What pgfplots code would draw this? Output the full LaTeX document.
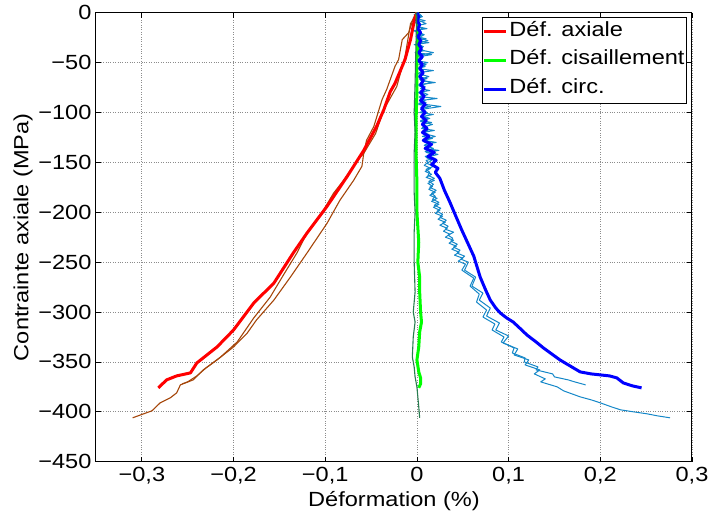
\documentclass[border=0pt]{standalone}
\usepackage{fontspec}
\setmainfont{Liberation Sans}[FakeStretch=1.15]
\usepackage{pgfplots}
\pgfplotsset{compat=1.18}
\definecolor{brownc}{RGB}{165,70,10}
\definecolor{dgreen}{RGB}{40,125,80}
\definecolor{lblue}{RGB}{20,135,200}
\newcommand\fs{\fontsize{20.5}{24}\selectfont}
\begin{document}
\begin{tikzpicture}
\begin{axis}[
  scale only axis, width=596pt, height=449pt,
  xmin=-0.35, xmax=0.3, ymin=-450, ymax=0,
  xtick={-0.3,-0.2,-0.1,0,0.1,0.2,0.3},
  xticklabels={{−0,3},{−0,2},{−0,1},0,{0,1},{0,2},{0,3}},
  ytick={-450,-400,-350,-300,-250,-200,-150,-100,-50,0},
  yticklabels={−450,−400,−350,−300,−250,−200,−150,−100,−50,0},
  grid=major, grid style={dotted, black!45, line width=0.7pt},
  tick align=inside, major tick length=5pt,
  tick style={black, line width=0.8pt},
  axis line style={black, line width=1pt},
  ticklabel style={font=\fs},
  xticklabel style={yshift=-2pt},
  yticklabel style={xshift=-1pt},
  xlabel={Déformation (\%)}, ylabel={Contrainte axiale (MPa)},
  label style={font=\fs},
  xlabel style={yshift=0pt},
  ylabel style={yshift=-1pt},
  legend cell align=left,
  legend style={at={(rel axis cs:0.9916,0.991)}, anchor=north east,
    draw=black, line width=0.8pt, font=\fs, inner sep=0pt, row sep=0pt,
    nodes={inner ysep=3.9pt, inner xsep=2pt, text height=15pt, text depth=6pt}},
  legend image code/.code={\draw[#1] (1pt,0pt) -- (23pt,0pt);},
]
% thin: brown cycles
\addplot[brownc, line width=1.1pt, line join=round, forget plot] coordinates {
(0,0) (-0.004,-6) (-0.009,-20) (-0.016,-27) (-0.020,-47) (-0.024,-54) (-0.033,-77) (-0.038,-87) (-0.047,-114) (-0.055,-128) (-0.058,-141) (-0.065,-148) (-0.080,-168) (-0.091,-181) (-0.102,-198) (-0.120,-221) (-0.131,-241) (-0.145,-262) (-0.160,-285) (-0.178,-306) (-0.196,-330) (-0.214,-345) (-0.230,-356) (-0.240,-364) (-0.250,-370) (-0.256,-372)};
\addplot[brownc, line width=1.1pt, line join=round, forget plot] coordinates {
(0,0) (-0.003,-5) (-0.007,-11) (-0.013,-44) (-0.022,-74) (-0.036,-97) (-0.045,-121) (-0.058,-141) (-0.060,-154) (-0.069,-168) (-0.084,-188) (-0.098,-211) (-0.120,-241) (-0.138,-265) (-0.156,-288) (-0.175,-308) (-0.185,-321) (-0.200,-335) (-0.218,-348) (-0.233,-358) (-0.244,-368) (-0.258,-373) (-0.262,-381) (-0.269,-386) (-0.280,-391) (-0.289,-399) (-0.310,-406)};
% thin: light blue cycles
\addplot[lblue, line width=1pt, line join=round, forget plot] coordinates {
(0.002,0) (-0.003,-2) (0.006,-4) (0.000,-6) (0.009,-8) (-0.002,-10) (0.004,-12) (0.001,-14) (0.011,-16) (-0.004,-18) (0.003,-20) (0.007,-22) (-0.001,-24) (0.010,-26) (0.002,-28) (0.013,-30) (-0.003,-32) (0.005,-34) (0.001,-36) (0.008,-38) (-0.002,-40) (0.016,-42) (0.003,-44) (0.006,-46) (-0.001,-48) (0.012,-50) (0.002,-52) (0.009,-54) (0.000,-56) (0.018,-58) (0.003,-60) (0.007,-62) (0.001,-64) (0.011,-66) (0.004,-68) (0.020,-70) (0.002,-72) (0.009,-74) (0.004,-76) (0.014,-78) (0.001,-80) (0.008,-82) (0.003,-84) (0.022,-86) (0.004,-88) (0.010,-90) (0.002,-92) (0.015,-94) (0.005,-96) (0.009,-98) (0.003,-100) (0.018,-102) (0.006,-104) (0.012,-106) (0.004,-108) (0.016,-110) (0.006,-112) (0.011,-114) (0.005,-116) (0.019,-118) (0.007,-120) (0.013,-122) (0.006,-124) (0.017,-126) (0.008,-128) (0.021,-130) (0.009,-132) (0.015,-134) (0.008,-136) (0.024,-138) (0.010,-140) (0.018,-142) (0.009,-144) (0.020,-146) (0.010,-148) (0.012,-150) (0.008,-153) (0.015,-156) (0.009,-159) (0.016,-162) (0.010,-165) (0.019,-168) (0.012,-171) (0.017,-174) (0.013,-177) (0.020,-180) (0.014,-183) (0.022,-186) (0.016,-189) (0.024,-192) (0.018,-195) (0.025,-198) (0.020,-201) (0.028,-204) (0.023,-207) (0.031,-210) (0.025,-213) (0.033,-216) (0.029,-219) (0.036,-222) (0.031,-225) (0.040,-228) (0.035,-231) (0.043,-234) (0.038,-237) (0.046,-240) (0.041,-243) (0.050,-246) (0.045,-249) (0.053,-252) (0.049,-258) (0.062,-266) (0.058,-274) (0.068,-282) (0.065,-290) (0.076,-298) (0.072,-305) (0.085,-312) (0.082,-318) (0.095,-325) (0.092,-330) (0.106,-336) (0.104,-341) (0.118,-346) (0.117,-350) (0.132,-355) (0.130,-358) (0.148,-362) (0.150,-365) (0.165,-368) (0.172,-370) (0.184,-373)};
\addplot[lblue, line width=1pt, line join=round, forget plot] coordinates {
(0.001,0) (0.005,-3) (-0.004,-5) (0.003,-8) (0.010,-11) (0.000,-13) (0.006,-16) (-0.002,-19) (0.008,-22) (0.002,-25) (0.012,-28) (0.000,-31) (0.007,-34) (0.002,-37) (0.018,-40) (0.001,-43) (0.005,-46) (-0.002,-49) (0.010,-52) (0.003,-55) (0.007,-58) (0.001,-61) (0.013,-64) (0.003,-67) (0.016,-70) (0.002,-73) (0.008,-76) (0.004,-79) (0.012,-82) (0.003,-85) (0.009,-88) (0.002,-91) (0.026,-94) (0.004,-97) (0.011,-100) (0.005,-103) (0.014,-106) (0.004,-109) (0.017,-112) (0.006,-115) (0.012,-118) (0.007,-121) (0.020,-124) (0.008,-127) (0.014,-130) (0.008,-133) (0.018,-136) (0.009,-139) (0.023,-142) (0.010,-145) (0.016,-148) (0.011,-151) (0.018,-154) (0.010,-157) (0.014,-160) (0.012,-163) (0.019,-166) (0.013,-169) (0.018,-172) (0.014,-175) (0.021,-178) (0.016,-181) (0.020,-184) (0.017,-187) (0.024,-190) (0.019,-193) (0.026,-196) (0.022,-199) (0.028,-202) (0.025,-205) (0.032,-208) (0.028,-211) (0.034,-214) (0.031,-217) (0.040,-220) (0.034,-223) (0.039,-226) (0.037,-229) (0.044,-232) (0.040,-235) (0.047,-238) (0.044,-241) (0.052,-244) (0.048,-247) (0.056,-250) (0.052,-258) (0.064,-265) (0.060,-274) (0.072,-281) (0.068,-288) (0.080,-296) (0.076,-304) (0.090,-311) (0.086,-318) (0.100,-324) (0.094,-331) (0.110,-337) (0.106,-343) (0.122,-348) (0.118,-353) (0.134,-358) (0.128,-362) (0.140,-367) (0.135,-370) (0.153,-375) (0.160,-379) (0.178,-385) (0.190,-388) (0.200,-391) (0.212,-395) (0.222,-398) (0.236,-400) (0.251,-402) (0.262,-404) (0.276,-406)};
% thick: red, green, blue
\addplot[red, line width=3pt, line join=round] coordinates {
(0,0) (-0.002,-4) (-0.007,-27) (-0.013,-47) (-0.018,-58) (-0.024,-71) (-0.029,-79) (-0.036,-97) (-0.044,-114) (-0.058,-138) (-0.076,-164) (-0.098,-194) (-0.120,-221) (-0.135,-241) (-0.156,-271) (-0.178,-291) (-0.200,-318) (-0.218,-335) (-0.240,-351) (-0.247,-361) (-0.262,-364) (-0.273,-368) (-0.282,-376)};
\addlegendentry{Déf. axiale}
\addplot[green, line width=3pt, line join=round] coordinates {
(0.000,0) (0.001,-20) (0.000,-50) (0.000,-80) (-0.001,-110) (-0.001,-140) (0.000,-170) (0.000,-200) (0.002,-230) (0.001,-250) (0.003,-265) (0.003,-280) (0.004,-300) (0.005,-310) (0.003,-320) (0.002,-335) (0.000,-348) (0.002,-360) (0.004,-366) (0.004,-372) (0.002,-376)};
\addlegendentry{Déf. cisaillement}
\addplot[blue, line width=3pt, line join=round] coordinates {
(0.000,0) (0.002,-4) (0.000,-8) (0.003,-12) (0.001,-16) (0.004,-20) (0.001,-24) (0.004,-28) (0.002,-32) (0.005,-36) (0.002,-40) (0.006,-44) (0.002,-48) (0.006,-52) (0.003,-56) (0.007,-60) (0.003,-64) (0.007,-68) (0.004,-72) (0.008,-76) (0.004,-80) (0.008,-84) (0.004,-88) (0.009,-92) (0.005,-96) (0.009,-100) (0.005,-104) (0.010,-108) (0.006,-112) (0.011,-116) (0.006,-120) (0.013,-124) (0.007,-128) (0.016,-132) (0.009,-136) (0.019,-140) (0.012,-144) (0.021,-148) (0.016,-152) (0.023,-156) (0.020,-160) (0.025,-166) (0.030,-178) (0.036,-190) (0.042,-203) (0.049,-218) (0.055,-230) (0.062,-244) (0.069,-265) (0.075,-278) (0.080,-288) (0.086,-296) (0.091,-301) (0.098,-306) (0.105,-310) (0.112,-316) (0.120,-323) (0.130,-330) (0.138,-336) (0.147,-342) (0.156,-348) (0.167,-354) (0.178,-360) (0.190,-362) (0.200,-363) (0.210,-364) (0.218,-366) (0.225,-371) (0.235,-374) (0.245,-376)};
\addlegendentry{Déf. circ.}
% thin: dark green
\addplot[dgreen, line width=1.1pt, line join=round, forget plot] coordinates {
(0.000,0) (-0.001,-30) (-0.002,-70) (-0.003,-100) (-0.002,-120) (-0.003,-140) (-0.003,-180) (-0.002,-200) (-0.003,-220) (-0.003,-250) (-0.002,-280) (-0.004,-300) (-0.002,-310) (-0.004,-325) (-0.005,-345) (-0.003,-355) (-0.002,-365) (0.000,-375) (0.001,-385) (0.002,-395) (0.003,-406)};
\end{axis}
\pgfresetboundingbox
\path ([xshift=-96pt,yshift=-53.3pt]current axis.south west) rectangle ++(710pt,515pt);
\end{tikzpicture}
\end{document}
